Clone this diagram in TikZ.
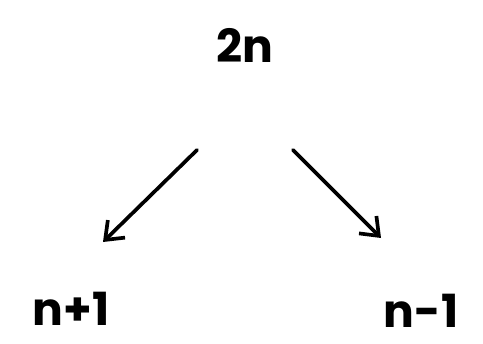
\documentclass[tikz,border=0pt]{standalone}
\usepackage{fontspec}
\setmainfont{Poppins}
\usetikzlibrary{arrows.meta, calc}

\begin{document}
\begin{tikzpicture}[
    x=0.02cm, y=-0.02cm,
    every node/.style={inner sep=0pt, font=\fontsize{26}{30}\selectfont\bfseries},
    arrow/.style={-{Straight Barb[length=9pt, width=14pt, line width=2.1pt]}, line width=2.1pt, line cap=round}
  ]
    \useasboundingbox (0,0) rectangle (483,344);
    \node (top)   at (245,45)  {2n};
    \node (nplus) at (71,309)  {n+1};
    \node (nminus) at (421,311) {n-1};
    \draw[arrow] ($(top)+(-48,105)$) -- ($(nplus)+(32,-67)$);
    \draw[arrow] ($(top)+(48,105)$)  -- ($(nminus)+(-40,-73)$);
\end{tikzpicture}
\end{document}
